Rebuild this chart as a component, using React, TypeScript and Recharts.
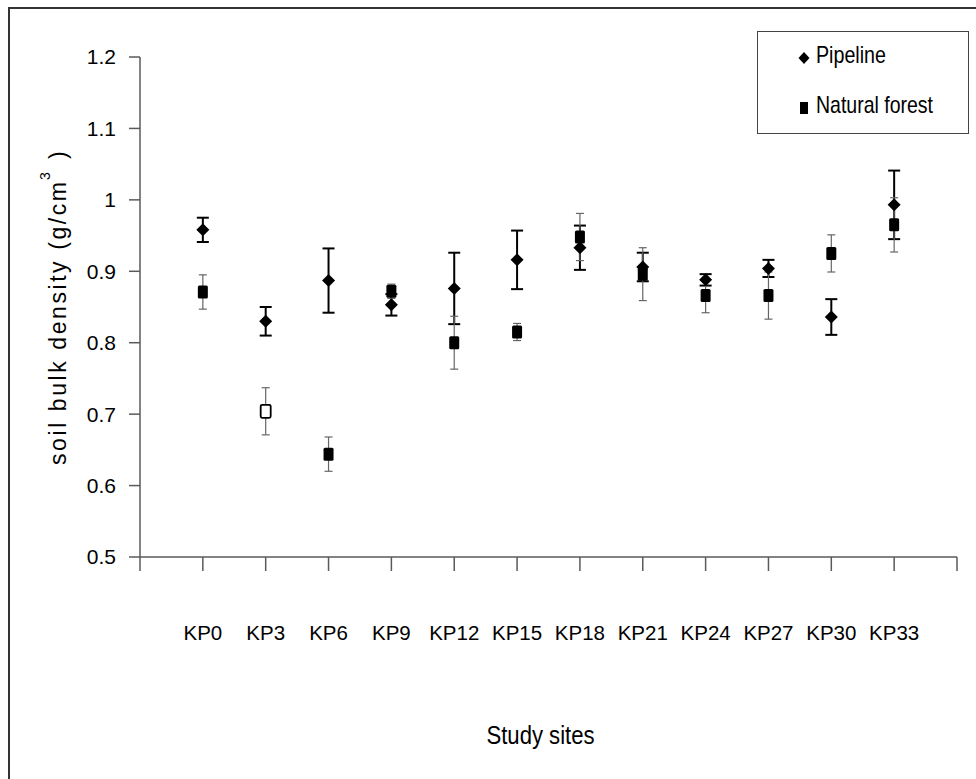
import { ScatterChart, Scatter, XAxis, YAxis, ErrorBar } from "recharts"

const sites = ["KP0", "KP3", "KP6", "KP9", "KP12", "KP15", "KP18", "KP21", "KP24", "KP27", "KP30", "KP33"]
const pipelineMean = [0.958, 0.83, 0.887, 0.853, 0.876, 0.916, 0.933, 0.906, 0.888, 0.904, 0.836, 0.993]
const pipelineErr = [0.017, 0.02, 0.045, 0.015, 0.05, 0.041, 0.031, 0.02, 0.008, 0.012, 0.025, 0.048]
const forestMean = [0.871, 0.704, 0.644, 0.872, 0.8, 0.815, 0.948, 0.896, 0.866, 0.866, 0.925, 0.965]
const forestErr = [0.024, 0.033, 0.024, 0.01, 0.037, 0.012, 0.033, 0.037, 0.024, 0.033, 0.026, 0.038]
const yTicks = [0.5, 0.6, 0.7, 0.8, 0.9, 1.0, 1.1, 1.2]
const xTicks = [0, 1, 2, 3, 4, 5, 6, 7, 8, 9, 10, 11, 12, 13]
const hollowSites = ["KP3"] // forest marker drawn open at this site

const FONT = "'Liberation Sans', Arial, sans-serif"
const AXIS = "#5a5a5a"

const pipelineData = sites.map((site, i) => ({ site, x: i + 1, y: pipelineMean[i], err: pipelineErr[i] }))
const forestData = sites.map((site, i) => ({ site, x: i + 1, y: forestMean[i], err: forestErr[i] }))

function Diamond(props: any) {
  const { cx, cy } = props
  if (cx == null || cy == null) return null
  const w = 6.5
  const h = 6.5
  return <polygon points={`${cx},${cy - h} ${cx + w},${cy} ${cx},${cy + h} ${cx - w},${cy}`} fill="#000" />
}

function Square(props: any) {
  const { cx, cy, payload } = props
  if (cx == null || cy == null) return null
  const open = hollowSites.includes(payload?.site)
  return (
    <rect
      x={cx - 5}
      y={cy - 6.5}
      width={10}
      height={13}
      rx={1.5}
      fill={open ? "#fff" : "#000"}
      stroke="#000"
      strokeWidth={open ? 1.8 : 0}
    />
  )
}

function YTitle(props: any) {
  const bx = 66
  const startY = 465
  return (
    <g fontFamily={FONT} fill="#000">
      <text x={bx} y={startY} transform={`rotate(-90 ${bx} ${startY})`} fontSize={23} textLength={283} lengthAdjust="spacing">
        soil bulk density  (g/cm
      </text>
      <text x={50} y={180} transform={`rotate(-90 50 180)`} fontSize={14}>
        3
      </text>
      <text x={bx} y={159} transform={`rotate(-90 ${bx} 159)`} fontSize={23}>
        )
      </text>
    </g>
  )
}

function XTitle(props: any) {
  const vb = props.viewBox || { x: 140, width: 817 }
  const cx = vb.x + vb.width / 2 - 8
  return (
    <text x={cx} y={744} textAnchor="middle" fontFamily={FONT} fontSize={26} textLength={108} lengthAdjust="spacingAndGlyphs" fill="#000">
      Study sites
    </text>
  )
}

export default function App() {
  return (
    <div>
      <div
        style={{
          position: "absolute",
          left: 8,
          top: 7,
          width: 968,
          height: 772,
          borderLeft: "2px solid #333",
          borderTop: "2px solid #333",
          boxSizing: "border-box",
        }}
      />
      <div style={{ position: "absolute", left: 0, top: 0, width: 976, height: 779 }}>
        <ScatterChart width={976} height={779} margin={{ top: 57, right: 19, left: 0, bottom: 192 }}>
          <XAxis
            type="number"
            dataKey="x"
            domain={[0, 13]}
            ticks={xTicks}
            interval={0}
            height={30}
            tickSize={14}
            tickMargin={54}
            tickFormatter={(v: number) => sites[v - 1] ?? ""}
            tick={{ fontSize: 20.5, fill: "#000", fontFamily: FONT }}
            axisLine={{ stroke: AXIS, strokeWidth: 1.5 }}
            tickLine={{ stroke: AXIS, strokeWidth: 1.5 }}
            label={<XTitle />}
          />
          <YAxis
            type="number"
            dataKey="y"
            domain={[0.5, 1.2]}
            ticks={yTicks}
            interval={0}
            width={140}
            tickSize={11}
            tickMargin={13}
            tickFormatter={(v: number) => String(Number(v.toFixed(1)))}
            tick={{ fontSize: 21, fill: "#000", fontFamily: FONT }}
            axisLine={{ stroke: AXIS, strokeWidth: 1.5 }}
            tickLine={{ stroke: AXIS, strokeWidth: 1.5 }}
            label={<YTitle />}
          />
          <Scatter name="Pipeline" data={pipelineData} shape={<Diamond />} isAnimationActive={false}>
            <ErrorBar dataKey="err" direction="y" width={6} stroke="#000" strokeWidth={2} />
          </Scatter>
          <Scatter name="Natural forest" data={forestData} shape={<Square />} isAnimationActive={false}>
            <ErrorBar dataKey="err" direction="y" width={4} stroke="#666" strokeWidth={1.2} />
          </Scatter>
        </ScatterChart>
      </div>
      <div
        style={{
          position: "absolute",
          left: 757,
          top: 31,
          width: 212,
          height: 103,
          border: "1.5px solid #444",
          boxSizing: "border-box",
          background: "#fff",
        }}
      >
        <svg width={210} height={100} style={{ display: "block" }}>
          <polygon points="46,20 51.5,26 46,32 40.5,26" fill="#000" />
          <text x={58} y={31} fontFamily={FONT} fontSize={24} textLength={70} lengthAdjust="spacingAndGlyphs" fill="#000">
            Pipeline
          </text>
          <rect x={42} y={70} width={8} height={12} fill="#000" />
          <text x={58} y={81} fontFamily={FONT} fontSize={24} textLength={117} lengthAdjust="spacingAndGlyphs" fill="#000">
            Natural forest
          </text>
        </svg>
      </div>
    </div>
  )
}
